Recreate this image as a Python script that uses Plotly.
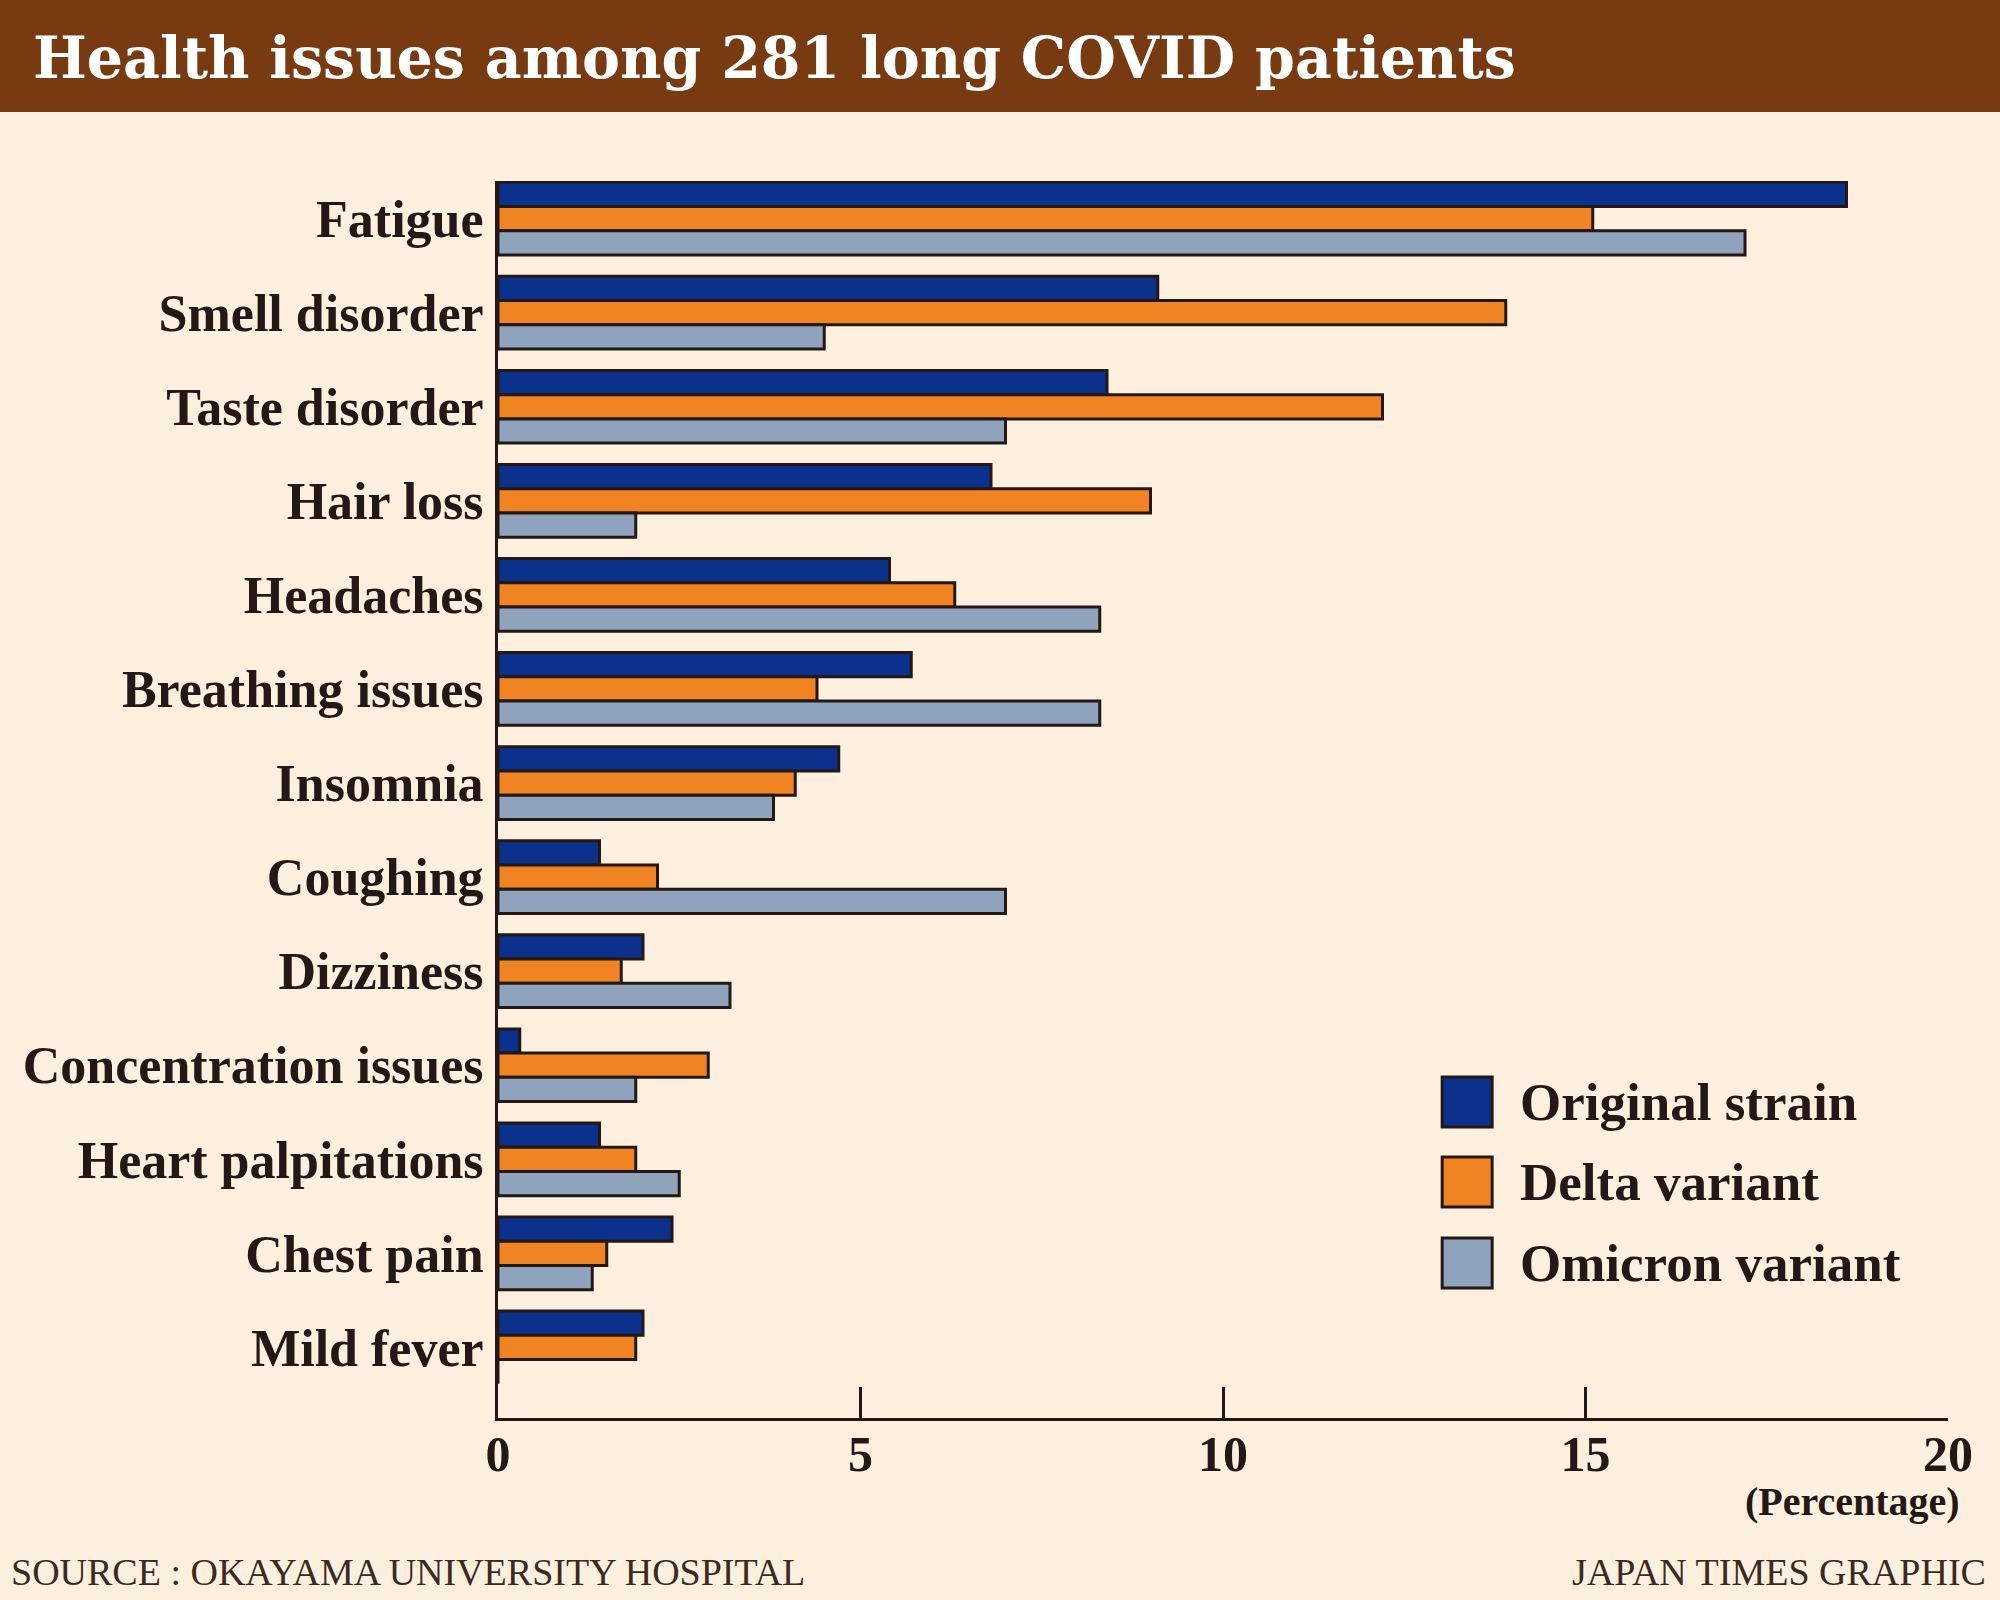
import plotly.graph_objects as go

categories = ["Fatigue", "Smell disorder", "Taste disorder", "Hair loss", "Headaches",
              "Breathing issues", "Insomnia", "Coughing", "Dizziness",
              "Concentration issues", "Heart palpitations", "Chest pain", "Mild fever"]
original_strain = [18.6, 9.1, 8.4, 6.8, 5.4, 5.7, 4.7, 1.4, 2.0, 0.3, 1.4, 2.4, 2.0]
delta_variant = [15.1, 13.9, 12.2, 9.0, 6.3, 4.4, 4.1, 2.2, 1.7, 2.9, 1.9, 1.5, 1.9]
omicron_variant = [17.2, 4.5, 7.0, 1.9, 8.3, 8.3, 3.8, 7.0, 3.2, 1.9, 2.5, 1.3, 0.0]
series_names = ["Original strain", "Delta variant", "Omicron variant"]
series_colors = ["#0B318D", "#F08322", "#8FA3BD"]
x_ticks = [0, 5, 10, 15, 20]

W, H = 2000, 1600
L, R, T, B = 497.5, 52, 181, 182
PW = W - L - R
PH = H - T - B

def xp(px):
    return (px - L) / PW

def yp(py):
    return (H - B - py) / PH

INK = "#231815"
BG = "#FEF0DE"
SERIF = "Liberation Serif, Times New Roman, serif"

fig = go.Figure()
for name, vals, col in zip(series_names, [original_strain, delta_variant, omicron_variant], series_colors):
    fig.add_trace(go.Bar(
        y=categories, x=vals, name=name, orientation="h",
        marker=dict(color=col, line=dict(color=INK, width=3)),
        showlegend=False,
    ))

shapes = [
    dict(type="rect", xref="paper", yref="paper", x0=xp(-5), x1=xp(W + 5), y0=yp(112), y1=yp(-5),
         fillcolor="#773A11", line=dict(width=0), layer="below"),
]
annotations = [
    dict(text="<b>Health issues among 281 long COVID patients</b>", xref="paper", yref="paper",
         x=xp(30), y=yp(57), xanchor="left", yanchor="middle", showarrow=False,
         font=dict(family="DejaVu Serif", size=57, color="white")),
    dict(text="<b>(Percentage)</b>", xref="paper", yref="paper", x=xp(1962), y=yp(1502),
         xanchor="right", yanchor="middle", showarrow=False,
         font=dict(family=SERIF, size=40, color=INK)),
    dict(text="SOURCE : OKAYAMA UNIVERSITY HOSPITAL", xref="paper", yref="paper", x=xp(8), y=yp(1572),
         xanchor="left", yanchor="middle", showarrow=False,
         font=dict(family=SERIF, size=38, color="#3A2A22")),
    dict(text="JAPAN TIMES GRAPHIC", xref="paper", yref="paper", x=xp(1988), y=yp(1572),
         xanchor="right", yanchor="middle", showarrow=False,
         font=dict(family=SERIF, size=38, color="#3A2A22")),
]
row_centers = [1102, 1182, 1263]
for name, col, cy in zip(series_names, series_colors, row_centers):
    shapes.append(dict(type="rect", xref="paper", yref="paper", x0=xp(1442), x1=xp(1492),
                       y0=yp(cy + 25), y1=yp(cy - 25), fillcolor=col, line=dict(color=INK, width=3)))
    annotations.append(dict(text="<b>" + name + "</b>", xref="paper", yref="paper", x=xp(1518), y=yp(cy),
                            xanchor="left", yanchor="middle", showarrow=False,
                            font=dict(family=SERIF, size=53, color=INK)))

fig.update_layout(
    width=W, height=H,
    margin=dict(l=L, r=R, t=T, b=B, pad=0),
    paper_bgcolor=BG, plot_bgcolor=BG,
    barmode="group", bargap=0.227, bargroupgap=0,
    shapes=shapes, annotations=annotations,
    xaxis=dict(range=[0, 20], tickvals=x_ticks, ticktext=[f"<b>{v}</b>" for v in x_ticks],
               ticks="inside", ticklen=31, tickwidth=3, tickcolor=INK,
               showline=True, linecolor=INK, linewidth=3, showgrid=False, zeroline=False,
               tickfont=dict(family=SERIF, size=50, color=INK), ticklabelstandoff=-10),
    yaxis=dict(type="category", categoryorder="array", categoryarray=categories,
               range=[12.75, -0.4], showline=True, linecolor=INK, linewidth=3,
               showgrid=False, zeroline=False, ticks="", ticklabelstandoff=1,
               ticktext=[f"<b>{c}</b>" for c in categories], tickvals=categories,
               tickfont=dict(family=SERIF, size=52, color=INK)),
)

fig.write_html("out.html", config={"displayModeBar": False},
               post_script="document.body.style.margin='0';document.body.style.padding='0';")
